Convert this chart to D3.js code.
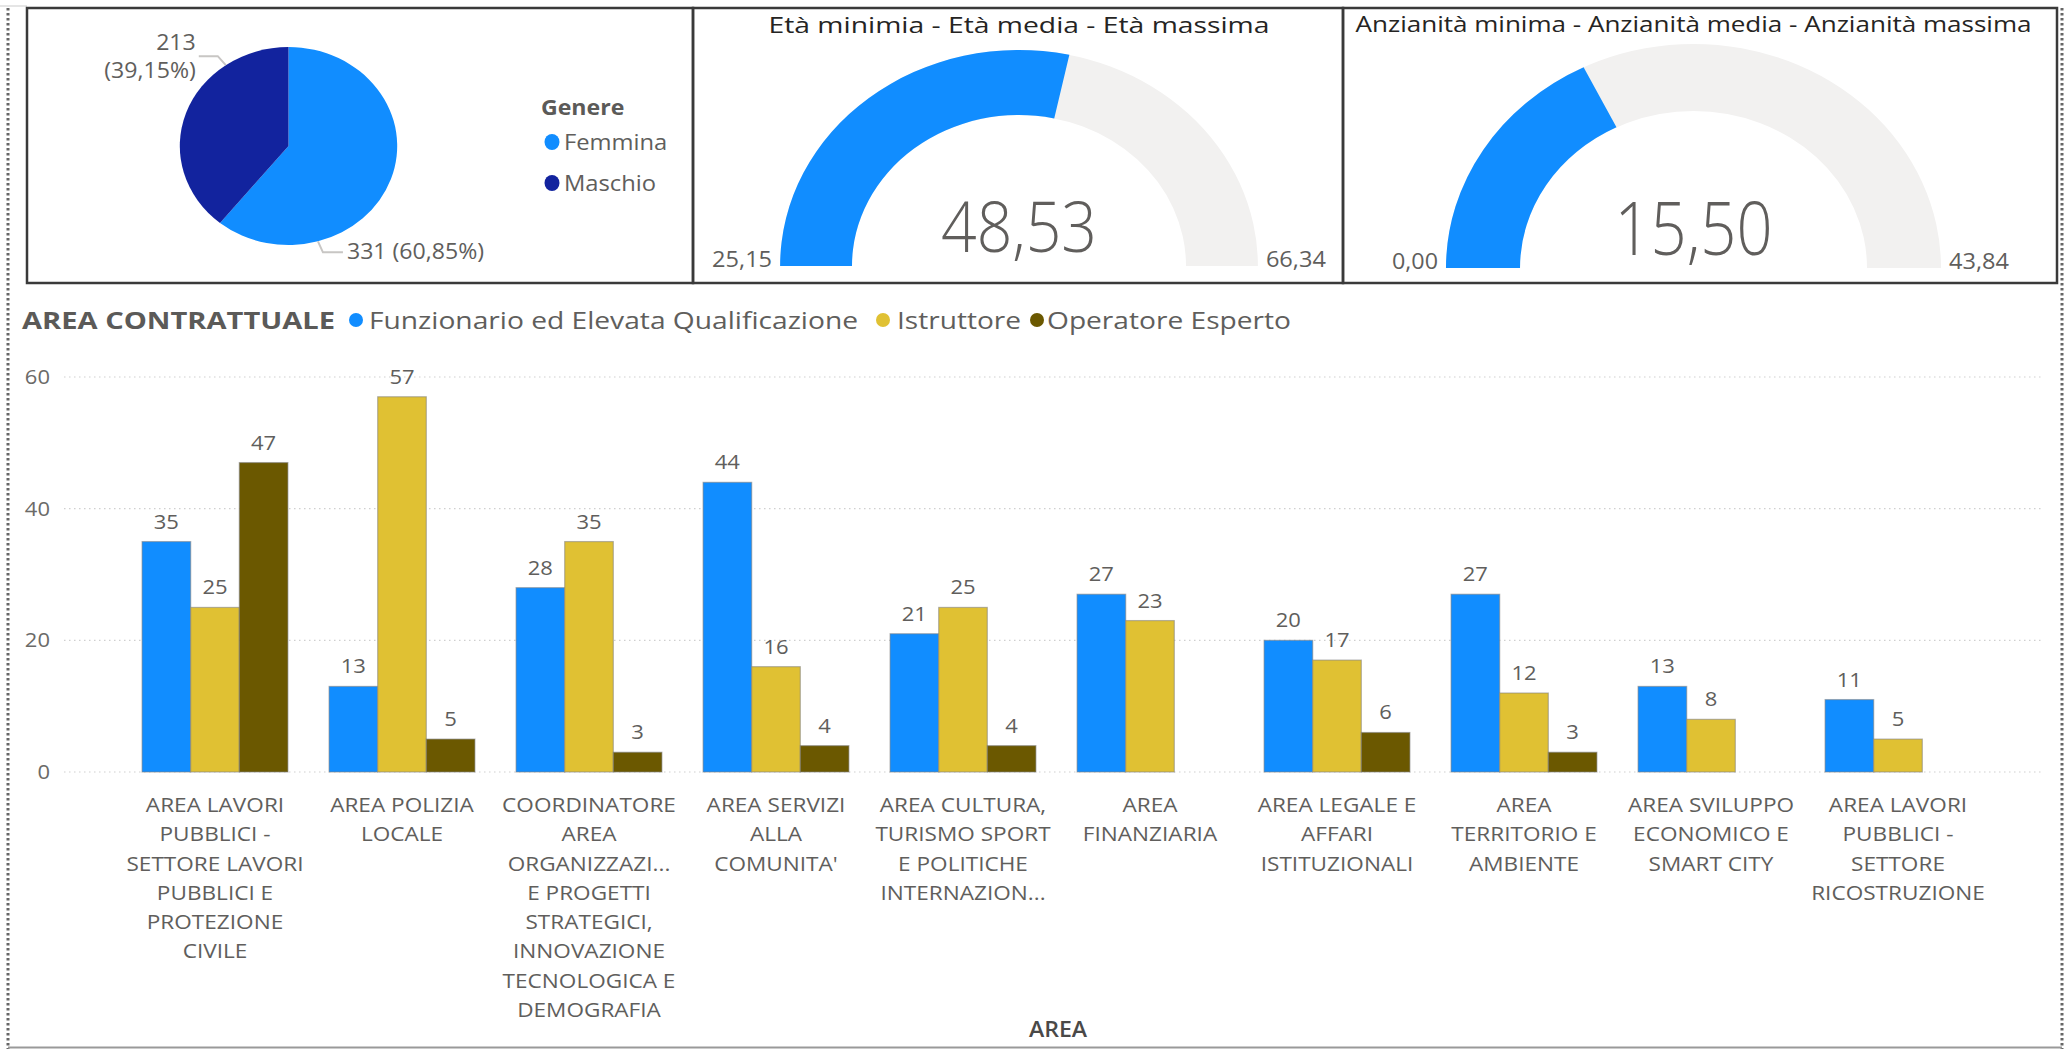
<!DOCTYPE html>
<html><head><meta charset="utf-8">
<script src="https://cdn.jsdelivr.net/npm/d3@7"></script>
<style>
html,body{margin:0;padding:0;background:#fff;overflow:hidden;}
svg{display:block;}
text{font-family:"Open Sans",sans-serif;}
</style></head><body>
<svg id="c" width="2065" height="1049"></svg>
<script>
// ---------------- DATA ----------------
const genderLabels = ["Femmina", "Maschio"];
const genderValues = [331, 213];
const genderColors = ["#118DFF", "#12239E"];

const ageTitle = "Età minimia - Età media - Età massima";
const ageValues = [25.15, 48.53, 66.34];          // min, media, max
const seniorityTitle = "Anzianità minima - Anzianità media - Anzianità massima";
const seniorityValues = [0.00, 15.50, 43.84];     // min, media, max

const categories = [
  "AREA LAVORI PUBBLICI - SETTORE LAVORI PUBBLICI E PROTEZIONE CIVILE",
  "AREA POLIZIA LOCALE",
  "COORDINATORE AREA ORGANIZZAZIONE E PROGETTI STRATEGICI, INNOVAZIONE TECNOLOGICA E DEMOGRAFIA",
  "AREA SERVIZI ALLA COMUNITA'",
  "AREA CULTURA, TURISMO SPORT E POLITICHE INTERNAZIONALI",
  "AREA FINANZIARIA",
  "AREA LEGALE E AFFARI ISTITUZIONALI",
  "AREA TERRITORIO E AMBIENTE",
  "AREA SVILUPPO ECONOMICO E SMART CITY",
  "AREA LAVORI PUBBLICI - SETTORE RICOSTRUZIONE"
];
const tickLabelLines = [
  ["AREA LAVORI", "PUBBLICI -", "SETTORE LAVORI", "PUBBLICI E", "PROTEZIONE", "CIVILE"],
  ["AREA POLIZIA", "LOCALE"],
  ["COORDINATORE", "AREA", "ORGANIZZAZI...", "E PROGETTI", "STRATEGICI,", "INNOVAZIONE", "TECNOLOGICA E", "DEMOGRAFIA"],
  ["AREA SERVIZI", "ALLA", "COMUNITA'"],
  ["AREA CULTURA,", "TURISMO SPORT", "E POLITICHE", "INTERNAZION..."],
  ["AREA", "FINANZIARIA"],
  ["AREA LEGALE E", "AFFARI", "ISTITUZIONALI"],
  ["AREA", "TERRITORIO E", "AMBIENTE"],
  ["AREA SVILUPPO", "ECONOMICO E", "SMART CITY"],
  ["AREA LAVORI", "PUBBLICI -", "SETTORE", "RICOSTRUZIONE"]
];
const seriesNames = ["Funzionario ed Elevata Qualificazione", "Istruttore", "Operatore Esperto"];
const seriesColors = ["#118DFF", "#E0C133", "#6B5800"];
const funzionario = [35, 13, 28, 44, 21, 27, 20, 27, 13, 11];
const istruttore  = [25, 57, 35, 16, 25, 23, 17, 12, 8, 5];
const operatore   = [47, 5, 3, 4, 4, null, 6, 3, null, null];
const yTicks = [0, 20, 40, 60];
const legendTitle = "AREA CONTRATTUALE";
const xAxisTitle = "AREA";

// ---------------- SETUP ----------------
const svg = d3.select("#c");
const loc = d3.formatLocale({decimal: ",", thousands: ".", grouping: [3], currency: ["€", ""]});
const f2 = loc.format(".2f"), pct = loc.format(".2%");
const TXT = "#605E5C", DARK = "#252423";
const SX = 1.1; // horizontal stretch of the original screenshot
function fit(sel, w) { return sel.attr("textLength", w).attr("lengthAdjust", "spacingAndGlyphs"); }
function stretch(sel, k) {
  sel.each(function () {
    const t = d3.select(this), x = +t.attr("x") || 0;
    t.attr("transform", `translate(${x},0) scale(${k},1) translate(${-x},0)`);
  });
  return sel;
}

// ---------------- FRAMES ----------------
const fr = svg.append("g");
fr.append("line").attr("x1", 0).attr("x2", 27).attr("y1", 6).attr("y2", 6).attr("stroke", "#ddd").attr("stroke-width", 1.5);
[8, 2062].forEach(x => fr.append("line").attr("x1", x).attr("x2", x).attr("y1", 8).attr("y2", 1049)
  .attr("stroke", "#666").attr("stroke-width", 3).attr("stroke-dasharray", "2.5,2.5"));
[[27, 693], [693, 1343], [1343, 2057]].forEach(([a, b]) =>
  fr.append("rect").attr("x", a).attr("y", 8).attr("width", b - a).attr("height", 275)
    .attr("fill", "none").attr("stroke", "#3a3a3a").attr("stroke-width", 2.5));
fr.append("line").attr("x1", 8).attr("x2", 2062).attr("y1", 1047.5).attr("y2", 1047.5).attr("stroke", "#999").attr("stroke-width", 2);

// ---------------- PIE ----------------
const pcx = 288.5, pcy = 146, pr = 99, psx = 1.098;
const pieData = d3.pie().sort(null).value(d => d)(genderValues);
const total = d3.sum(genderValues);
const arcP = d3.arc().innerRadius(0).outerRadius(pr);
svg.append("g").attr("transform", `translate(${pcx},${pcy}) scale(${psx},1)`)
  .selectAll("path").data(pieData).join("path")
  .attr("d", arcP).attr("fill", (d, i) => genderColors[i]);

pieData.forEach((d, i) => {
  const a = d.startAngle + 0.75 * (d.endAngle - d.startAngle);
  const P = [pcx + pr * psx * Math.sin(a), pcy - pr * Math.cos(a)];
  const right = Math.sin(a) > 0;
  let E, Q;
  if (right) { E = [P[0] + 5, P[1] + 11]; Q = [E[0] + 20, E[1]]; }
  else { E = [P[0] - 8, P[1] - 9]; Q = [E[0] - 19, E[1]]; }
  svg.append("polyline").attr("points", [P, E, Q].map(p => p.join(",")).join(" "))
    .attr("fill", "none").attr("stroke", "#c8c6c4").attr("stroke-width", 2);
  const v = genderValues[i], p = pct(v / total);
  if (right) {
    stretch(svg.append("text").attr("x", Q[0] + 4).attr("y", Q[1] + 7).attr("font-size", 21).attr("fill", TXT)
      .text(`${v} (${p})`), SX);
  } else {
    stretch(svg.append("text").attr("x", Q[0] - 3).attr("y", Q[1] - 6).attr("font-size", 21).attr("fill", TXT)
      .attr("text-anchor", "end").text(v), SX);
    stretch(svg.append("text").attr("x", Q[0] - 3).attr("y", Q[1] + 22).attr("font-size", 21).attr("fill", TXT)
      .attr("text-anchor", "end").text(`(${p})`), SX);
  }
});
// pie legend
stretch(svg.append("text").attr("x", 541).attr("y", 115).attr("font-size", 21).attr("font-weight", 700)
  .attr("fill", "#5b5a58").text("Genere"), SX);
genderLabels.forEach((g, i) => {
  const y = 142 + i * 41;
  svg.append("ellipse").attr("cx", 552).attr("cy", y).attr("rx", 7.5).attr("ry", 8).attr("fill", genderColors[i]);
  stretch(svg.append("text").attr("x", 564).attr("y", y + 8).attr("font-size", 22).attr("fill", TXT).text(g), 1.08);
});

// ---------------- GAUGES ----------------
function gauge(vals, cx, cy, rOut, rIn, sx, title, titleW, titleY, numSize, numW, numBase) {
  const [mn, avg, mx] = vals;
  const ang = d3.scaleLinear().domain([mn, mx]).range([-Math.PI / 2, Math.PI / 2]);
  const arcG = d3.arc().innerRadius(rIn).outerRadius(rOut);
  const g = svg.append("g").attr("transform", `translate(${cx},${cy}) scale(${sx},1)`);
  g.append("path").attr("d", arcG({startAngle: ang(mn), endAngle: ang(mx)})).attr("fill", "#F2F1F0");
  g.append("path").attr("d", arcG({startAngle: ang(mn), endAngle: ang(avg)})).attr("fill", "#118DFF");
  fit(svg.append("text").attr("x", cx).attr("y", titleY).attr("text-anchor", "middle")
    .attr("font-size", 21).attr("fill", DARK).text(title), titleW);
  fit(svg.append("text").attr("x", cx).attr("y", numBase).attr("text-anchor", "middle")
    .attr("font-family", "Roboto").attr("font-weight", 300).attr("font-size", numSize)
    .attr("fill", TXT).text(f2(avg)), numW);
  const lw = t => t.length >= 5 ? 60 : 46;
  fit(svg.append("text").attr("x", cx - rOut * sx - 8).attr("y", cy + 1).attr("text-anchor", "end")
    .attr("font-family", "Roboto").attr("font-size", 22).attr("fill", TXT).text(f2(mn)), lw(f2(mn)));
  fit(svg.append("text").attr("x", cx + rOut * sx + 8).attr("y", cy + 1).attr("text-anchor", "start")
    .attr("font-family", "Roboto").attr("font-size", 22).attr("fill", TXT).text(f2(mx)), lw(f2(mx)));
}
gauge(ageValues, 1019, 266, 216, 151, 1.106, ageTitle, 501, 33, 70, 156, 252);
gauge(seniorityValues, 1693.5, 268, 224, 157, 1.105, seniorityTitle, 676, 32, 74, 158, 255);

// ---------------- BAR CHART ----------------
const x0 = d3.scaleBand().domain(categories).range([121.5, 1991.5]).paddingInner(0.22).paddingOuter(0.11);
const x1 = d3.scaleBand().domain(seriesNames).range([0, x0.bandwidth()]);
const y = d3.scaleLinear().domain([0, 60]).range([772, 377]);
const series = [funzionario, istruttore, operatore];

// gridlines + y labels
const yAxis = d3.axisLeft(y).tickValues(yTicks).tickSize(0).tickPadding(0);
const ya = svg.append("g").attr("transform", "translate(50,0)").call(yAxis);
ya.select(".domain").remove();
stretch(ya.selectAll("text").attr("font-family", "Open Sans").attr("font-size", 20).attr("fill", "#6b6a68").attr("x", 0), SX);
svg.append("g").selectAll("line").data(yTicks).join("line")
  .attr("x1", 64).attr("x2", 2043).attr("y1", d => y(d)).attr("y2", d => y(d))
  .attr("stroke", "#cfcfcf").attr("stroke-width", 1.2).attr("stroke-dasharray", "1.5,3.5");

// bars
const groups = svg.append("g").selectAll("g").data(categories).join("g")
  .attr("transform", d => `translate(${x0(d)},0)`);
groups.each(function (c, ci) {
  const g = d3.select(this);
  seriesNames.forEach((s, si) => {
    const v = series[si][ci];
    if (v == null) return;
    g.append("rect").attr("x", x1(s)).attr("width", x1.bandwidth())
      .attr("y", y(v)).attr("height", y(0) - y(v))
      .attr("fill", seriesColors[si]).attr("stroke", "#7f7f7f").attr("stroke-opacity", 0.55).attr("stroke-width", 1.2);
    stretch(g.append("text").attr("x", x1(s) + x1.bandwidth() / 2).attr("y", y(v) - 13)
      .attr("text-anchor", "middle").attr("font-size", 20).attr("fill", TXT).text(v), SX);
  });
});

// x tick labels (bottom axis, multi-line)
const xAxis = d3.axisBottom(x0).tickSize(0).tickFormat(() => "");
const xa = svg.append("g").attr("transform", `translate(0,${y(0)})`).call(xAxis);
xa.select(".domain").remove();
xa.selectAll(".tick").each(function (c, ci) {
  const t = d3.select(this).select("text").attr("y", 0).attr("dy", null)
    .attr("font-family", "Open Sans").attr("font-size", 20).attr("fill", TXT)
    .attr("transform", "scale(1.13,1)");
  tickLabelLines[ci].forEach((ln, li) => {
    t.append("tspan").attr("x", 0).attr("y", 40 + li * 29.3).text(ln);
  });
});
stretch(svg.append("text").attr("x", 1058).attr("y", 1037).attr("text-anchor", "middle")
  .attr("font-size", 21).attr("font-weight", 600).attr("fill", "#4a4948").text(xAxisTitle), SX);

// legend
const lg = svg.append("g");
fit(lg.append("text").attr("x", 22).attr("y", 329).attr("font-size", 24).attr("font-weight", 700)
  .attr("fill", "#5b5a58").text(legendTitle), 313);
const legendX = [[356, 369, 489], [883, 897, 124], [1037, 1047, 244]];
seriesNames.forEach((s, i) => {
  const [dx, tx, tw] = legendX[i];
  lg.append("circle").attr("cx", dx).attr("cy", 320).attr("r", 7).attr("fill", seriesColors[i]);
  fit(lg.append("text").attr("x", tx).attr("y", 329).attr("font-size", 23).attr("fill", TXT).text(s), tw);
});
</script>
</body></html>
